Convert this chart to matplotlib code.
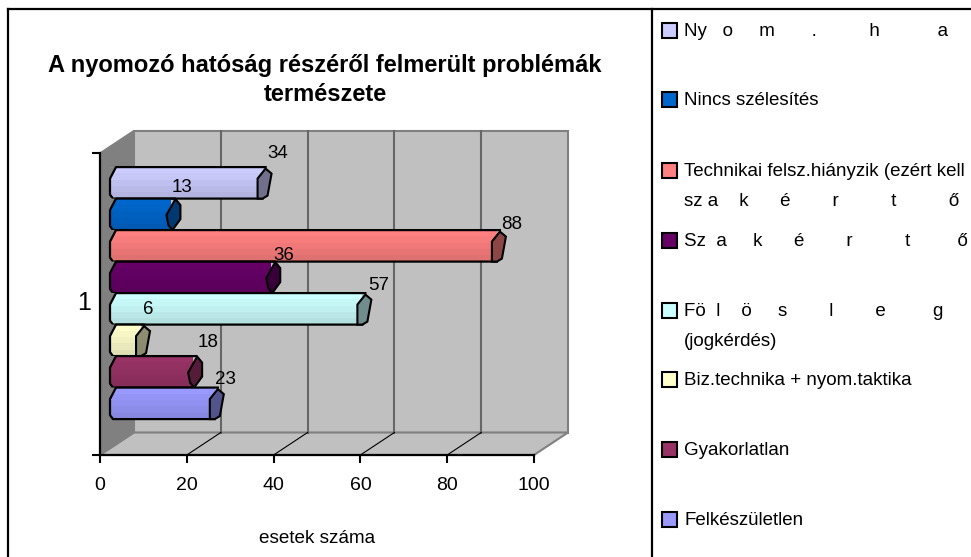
"""
A nyomozo hatosag chart: pseudo 3D horizontal cylinder bars with a legend panel.
"""

import matplotlib

matplotlib.use("Agg")
import matplotlib.pyplot as plt
from matplotlib.patches import Polygon, Rectangle

plt.rcParams["font.family"] = ["Liberation Sans", "DejaVu Sans"]

# Data, top bar first
labels = [
    "Ny   o     m       .          h           a",
    "Nincs szélesítés",
    "Technikai felsz.hiányzik (ezért kell\nsz a    k      é        r          t          ő",
    "Sz  a     k      é        r          t         ő",
    "Fö  l    ö     s        l        e         g\n(jogkérdés)",
    "Biz.technika + nyom.taktika",
    "Gyakorlatlan",
    "Felkészületlen",
]
values = [34, 13, 88, 36, 57, 6, 18, 23]
colors = ["#CCCCFF", "#0066CC", "#FF8080", "#660066", "#CCFFFF", "#FFFFCC", "#993366", "#9999FF"]
x_ticks = [0, 20, 40, 60, 80, 100]
title = "A nyomozó hatóság részéről felmerült problémák\ntermészete"

W, H = 971, 557
fig = plt.figure(figsize=(W / 100, H / 100), dpi=100, facecolor="white")

# whole-figure layer in pixels for frames and legend
bg = fig.add_axes([0, 0, 1, 1])
bg.set_xlim(0, W)
bg.set_ylim(H, 0)
bg.axis("off")
bg.plot([8, W], [9, 9], color="black", lw=1.6)
bg.plot([8, 8], [9, H], color="black", lw=1.6)
bg.plot([652, 652], [9, H], color="black", lw=1.6)

# front plane of the plot, data coordinates
x0_px, x1_px, y_bot, y_top = 100, 534, 455, 153
ax = fig.add_axes([x0_px / W, 1 - y_bot / H, (x1_px - x0_px) / W, (y_bot - y_top) / H])
ax.set_xlim(0, 100)
ax.set_ylim(0, (y_bot - y_top) / 31.5)
ax.patch.set_alpha(0)
px = 100 / (x1_px - x0_px)  # data units per pixel, x
py = 1 / 31.5  # data units per pixel, y
dx, dy = 34 * px, 22.5 * py
ymax = ax.get_ylim()[1]

# walls
wall_kw = dict(clip_on=False, zorder=1)
ax.add_patch(Rectangle((dx, dy), 100, ymax, fc="#C0C0C0", ec="#808080", lw=1.5, **wall_kw))
ax.add_patch(Polygon([(0, 0), (dx, dy), (100 + dx, dy), (100, 0)], fc="#C0C0C0", ec="#808080", lw=1.5, **wall_kw))
ax.add_patch(Polygon([(0, 0), (dx, dy), (dx, ymax + dy), (0, ymax)], fc="#808080", ec="#808080", lw=1, **wall_kw))
for t in x_ticks[1:-1]:
    ax.plot([t + dx, t + dx], [dy, ymax + dy], color="#666666", lw=1.5, clip_on=False, zorder=2)
    ax.plot([t, t + dx], [0, dy], color="black", lw=0.8, clip_on=False, zorder=2)

# bars
start = 10 * px
bottom = 1.14
n = len(values)
caps_a = [(0, 20), (8, 30), (14, 25), (10, 3), (5, 0), (0, 0)]
caps_b = [(0, 15), (9, 31), (14, 25), (14, 11), (6, 0), (2, 5)]
shade = [0.0, 0.03, 0.06, 0.09, 0.12]
label_off = [(20, 14), (16, 11), (20, 6), (18, 6), (21, 8), (12, 15), (20, 14), (16, 8)]


def darker(color, amount):
    rgb = matplotlib.colors.to_rgb(color)
    return tuple(c * (1 - amount) for c in rgb)


for i, (v, c) in enumerate(zip(values, colors)):
    y = bottom + (n - 1 - i)
    xe = start + v
    z = 3 + i
    # banded body
    for k, s in enumerate(shade):
        ax.barh(y + 1 - (k + 0.5) / len(shade), v + 5 * px, height=1 / len(shade), left=start,
                color=darker(c, s), zorder=z, clip_on=False)
    # wall colour over the square corners on the left
    ax.add_patch(Polygon([(start - 1 * px, y + 1), (start + 6 * px, y + 1), (start, y + 20 * py), (start - 1 * px, y + 20 * py)],
                         fc="#808080", ec="none", zorder=z, clip_on=False))
    ax.add_patch(Polygon([(start - 1 * px, y), (start + 3 * px, y), (start, y + 4 * py), (start - 1 * px, y + 4 * py)],
                         fc="#808080", ec="none", zorder=z, clip_on=False))
    # outline with chamfered left end
    ax.plot([xe + 8 * px, start + 6 * px, start, start, start + 3 * px, xe + 5 * px],
            [y + 1, y + 1, y + 20 * py, y + 4 * py, y, y], color="black", lw=1.6, zorder=z, clip_on=False)
    cap = caps_b if i in (1, 3, 6) else caps_a
    ax.add_patch(Polygon([(xe + a * px, y + b * py) for a, b in cap], fc=darker(c, 0.45), ec="black", lw=1.5,
                         zorder=z, clip_on=False))
    off_x, off_y = label_off[i]
    ax.text(xe + off_x * px, y + 1 + off_y * py, str(v), fontsize=13.5, ha="center", va="center",
            zorder=20, clip_on=False)

# axes lines and ticks
for side in ("top", "right"):
    ax.spines[side].set_visible(False)
for side in ("left", "bottom"):
    ax.spines[side].set_linewidth(1.6)
    ax.spines[side].set_zorder(30)
ax.set_xticks(x_ticks)
ax.tick_params(axis="x", length=6, width=1.5, labelsize=14, pad=10)
ax.set_yticks([0, ymax])
ax.set_yticklabels([])
ax.tick_params(axis="y", length=6, width=1.5)
ax.text(-16 * px, ymax / 2 + 1 * py, "1", fontsize=18, ha="center", va="center", clip_on=False)
ax.set_xlabel("esetek száma", fontsize=13.6, labelpad=26, x=0.5)

# title
bg.text(325, 80, title, fontsize=17, fontweight="bold", ha="center", va="center", linespacing=1.31)

# legend
legend_y = [30, 99, 170, 240, 310, 379, 449, 519]
for lab, c, ly in zip(labels, colors, legend_y):
    bg.add_patch(Rectangle((661.5, ly - 7.5), 15, 15, fc=c, ec="black", lw=1.5))
    bg.text(684, ly - 7, lab, fontsize=13.5, ha="left", va="top", linespacing=1.98, clip_on=True)

fig.savefig("out.png", dpi=100)
